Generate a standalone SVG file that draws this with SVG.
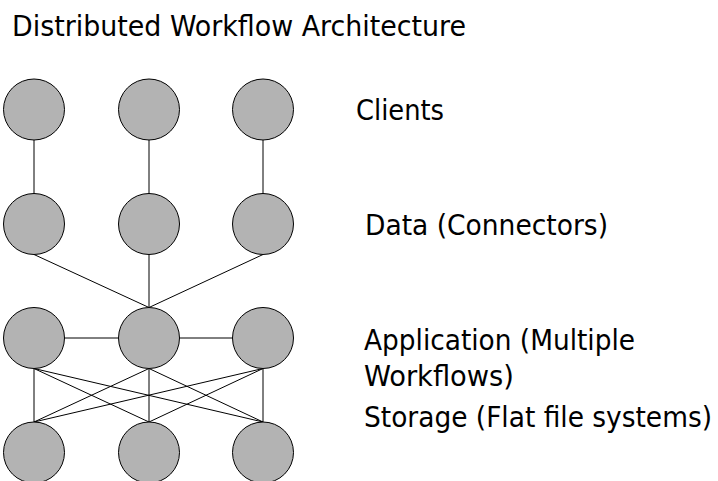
<svg xmlns="http://www.w3.org/2000/svg" width="718" height="481" viewBox="0 0 718 481">
  <style>
    .node { fill: #b3b3b3; stroke: #000; stroke-width: 1; }
    .edge { stroke: #000; stroke-width: 1; fill: none; }
    .lbl { font-family: "DejaVu Sans Condensed", "DejaVu Sans", sans-serif; font-size: 28px; fill: #000; }
  </style>
  <rect width="718" height="481" fill="#fff"/>

  <text class="lbl" x="12" y="36" textLength="454" lengthAdjust="spacingAndGlyphs">Distributed Workflow Architecture</text>

  <!-- connectors -->
  <g id="connectors" class="edge">
    <!-- clients to data -->
    <line x1="34" y1="140" x2="34" y2="193.5"/>
    <line x1="149" y1="140" x2="149" y2="193.5"/>
    <line x1="263" y1="140" x2="263" y2="193.5"/>
    <!-- data to central application -->
    <line x1="34" y1="254.5" x2="149" y2="307.5"/>
    <line x1="149" y1="254.5" x2="149" y2="307.5"/>
    <line x1="263" y1="254.5" x2="149" y2="307.5"/>
    <!-- application peers -->
    <line x1="65" y1="338" x2="118" y2="338"/>
    <line x1="179.5" y1="338" x2="232.5" y2="338"/>
    <!-- application to storage, every pair -->
    <line x1="34" y1="368.5" x2="34" y2="422"/>
    <line x1="34" y1="368.5" x2="149" y2="422"/>
    <line x1="34" y1="368.5" x2="263" y2="422"/>
    <line x1="149" y1="368.5" x2="34" y2="422"/>
    <line x1="149" y1="368.5" x2="149" y2="422"/>
    <line x1="149" y1="368.5" x2="263" y2="422"/>
    <line x1="263" y1="368.5" x2="34" y2="422"/>
    <line x1="263" y1="368.5" x2="149" y2="422"/>
    <line x1="263" y1="368.5" x2="263" y2="422"/>
  </g>

  <!-- clients -->
  <g id="client-1"><circle class="node" cx="34" cy="109.5" r="30.5"/></g>
  <g id="client-2"><circle class="node" cx="149" cy="109.5" r="30.5"/></g>
  <g id="client-3"><circle class="node" cx="263" cy="109.5" r="30.5"/></g>
  <!-- data connectors -->
  <g id="data-1"><circle class="node" cx="34" cy="224" r="30.5"/></g>
  <g id="data-2"><circle class="node" cx="149" cy="224" r="30.5"/></g>
  <g id="data-3"><circle class="node" cx="263" cy="224" r="30.5"/></g>
  <!-- applications -->
  <g id="app-1"><circle class="node" cx="34" cy="338" r="30.5"/></g>
  <g id="app-2"><circle class="node" cx="149" cy="338" r="30.5"/></g>
  <g id="app-3"><circle class="node" cx="263" cy="338" r="30.5"/></g>
  <!-- storage -->
  <g id="storage-1"><circle class="node" cx="34" cy="452.5" r="30.5"/></g>
  <g id="storage-2"><circle class="node" cx="149" cy="452.5" r="30.5"/></g>
  <g id="storage-3"><circle class="node" cx="263" cy="452.5" r="30.5"/></g>

  <!-- tier labels -->
  <g id="tier-labels">
    <text class="lbl" x="356" y="120" textLength="88" lengthAdjust="spacingAndGlyphs">Clients</text>
    <text class="lbl" x="365" y="235" textLength="243" lengthAdjust="spacingAndGlyphs">Data (Connectors)</text>
    <text class="lbl" x="364" y="349.5" textLength="271" lengthAdjust="spacingAndGlyphs">Application (Multiple</text>
    <text class="lbl" x="364" y="385.5" textLength="150" lengthAdjust="spacingAndGlyphs">Workflows)</text>
    <text class="lbl" x="364" y="427" textLength="348" lengthAdjust="spacingAndGlyphs">Storage (Flat file systems)</text>
  </g>
</svg>
